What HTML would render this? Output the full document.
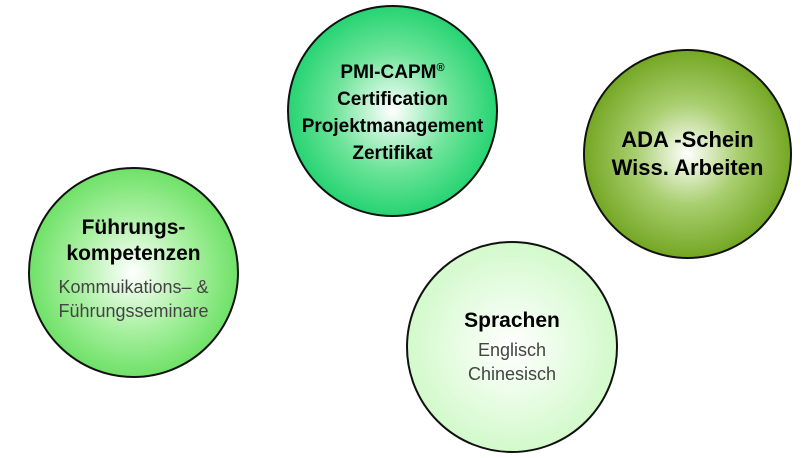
<!DOCTYPE html>
<html><head><style>
body{margin:0;width:812px;height:458px;background:#fff;position:relative;overflow:hidden;font-family:"Liberation Sans",Arial,sans-serif}
.c{position:absolute;border-radius:50%;border:2px solid #111;box-sizing:border-box;display:flex;flex-direction:column;align-items:center;justify-content:center;text-align:center;color:#000}
.b{font-weight:bold;font-size:21px;line-height:26px}
.n{font-size:18px;line-height:24px;color:#444}
</style></head><body>
<div class="c" style="left:28px;top:167px;width:211px;height:211px;background:radial-gradient(circle at 50% 50%,#fff 0%,#a8f0a0 40%,#5fdd58 80%,#4fd548 100%)">
<div class="b" style="margin-top:-8px">Führungs-<br>kompetenzen</div>
<div class="n" style="margin-top:8px">Kommuikations– &amp;<br>Führungsseminare</div>
</div>
<div class="c" style="left:287px;top:5px;width:211px;height:212px;background:radial-gradient(circle at 50% 50%,#fff 0%,#6fe49a 40%,#12cf68 80%,#0cc960 100%)">
<div class="b" style="font-size:19px;line-height:27px">PMI-CAPM<sup style="font-size:11px;vertical-align:7px">®</sup><br>Certification<br>Projektmanagement<br>Zertifikat</div>
</div>
<div class="c" style="left:583px;top:49px;width:209px;height:210px;background:radial-gradient(circle at 50% 50%,#fff 0%,#a9cf70 35%,#6fa31c 75%,#5a9008 100%)">
<div class="b" style="font-size:22px;line-height:28px">ADA -Schein<br>Wiss. Arbeiten</div>
</div>
<div class="c" style="left:406px;top:241px;width:212px;height:212px;background:radial-gradient(circle at 50% 50%,#fff 0%,#e3fcde 45%,#c0f6b6 100%)">
<div class="b">Sprachen</div>
<div class="n" style="margin-top:4px">Englisch<br>Chinesisch</div>
</div>
</body></html>
